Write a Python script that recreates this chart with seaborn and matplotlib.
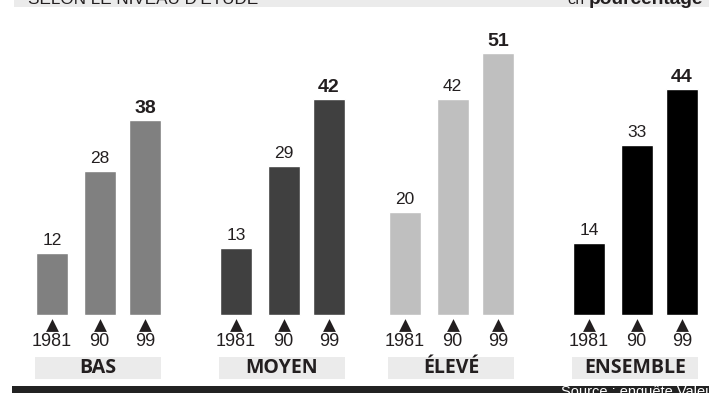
import matplotlib
matplotlib.use("Agg")
import matplotlib.pyplot as plt
from matplotlib.patches import Rectangle
import pandas as pd
import seaborn as sns

# data
niveaux = ["BAS", "MOYEN", "ÉLEVÉ", "ENSEMBLE"]
annees = ["1981", "90", "99"]
bas = [12, 28, 38]
moyen = [13, 29, 42]
eleve = [20, 42, 51]
ensemble = [14, 33, 44]
couleurs = ["#808080", "#404040", "#bfbfbf", "#000000"]

# layout (pixels on a 709x393 canvas)
W, H = 709, 393
BASE = 315          # pixel row of bar baseline
PX = 5.14           # pixels per percentage point
group_x = [52, 236, 405, 589]
year_dx = [0, 47.5, 93]
box_w = 126
INK = "#231f20"


def py(pix):
    # pixel row -> data y
    return (BASE - pix) / PX


rows = []
for g, (niv, vals) in enumerate(zip(niveaux, [bas, moyen, eleve, ensemble])):
    for j, (an, v) in enumerate(zip(annees, vals)):
        rows.append({"niveau": niv, "annee": an, "valeur": v,
                     "pos": group_x[g] + year_dx[j], "j": j})
df = pd.DataFrame(rows)

sns.set_theme(style="white")
plt.rcParams["font.family"] = ["Liberation Sans", "DejaVu Sans"]

fig = plt.figure(figsize=(W / 100, H / 100), dpi=100)
ax = fig.add_axes([0, 0, 1, 1])

sns.barplot(data=df, x="pos", y="valeur", hue="niveau", hue_order=niveaux,
            palette=couleurs, native_scale=True, dodge=False, width=32 / 45.5,
            saturation=1, errorbar=None, legend=False, ax=ax)

ax.set_xlim(0, W)
ax.set_ylim(py(H), py(0))
ax.axis("off")

# value labels, triangles, years
for _, r in df.iterrows():
    bold = r["j"] == 2
    ax.text(r["pos"], r["valeur"] + (3 if bold else 5) / PX, str(r["valeur"]),
            ha="center", va="bottom", color=INK,
            fontsize=14 if bold else 12.5,
            fontweight="bold" if bold else "normal")
ax.scatter(df["pos"], [py(325)] * len(df), marker="^", s=85, color=INK,
           linewidths=0, clip_on=False, zorder=3)
for _, r in df.iterrows():
    ax.text(r["pos"], py(341.5), r["annee"], ha="center", va="center",
            fontsize=13, color=INK)

# group name boxes
for g, niv in enumerate(niveaux):
    x0 = group_x[g] - 17
    ax.add_patch(Rectangle((x0, py(379)), box_w, (379 - 357) / PX,
                           facecolor="#ebebeb", edgecolor="none", zorder=1))
    ax.text(x0 + box_w / 2, py(368), niv, ha="center", va="center",
            fontsize=14, fontweight="bold", color=INK,
            family=["Open Sans", "DejaVu Sans"])

# top band (title cut off by the crop, as in the source)
ax.add_patch(Rectangle((14, py(7)), W - 14, 10 / PX,
                       facecolor="#ebebeb", edgecolor="none", clip_on=False))
ax.text(28, py(4), "SELON LE NIVEAU D'ÉTUDE", ha="left", va="baseline",
        fontsize=12.3, color=INK)
ax.text(703, py(4), "pourcentage", ha="right", va="baseline",
        fontsize=13.8, fontweight="bold", color=INK)
ax.text(584, py(4), "en", ha="right", va="baseline", fontsize=11, color=INK)

# bottom source band
ax.add_patch(Rectangle((12, py(H + 2)), W - 12, (H + 2 - 386) / PX,
                       facecolor="#222222", edgecolor="none", clip_on=False))
ax.text(561, py(385), "Source : enquête Valeurs", ha="left", va="top",
        fontsize=10.5, color="white")

fig.savefig("out.png", dpi=100)
